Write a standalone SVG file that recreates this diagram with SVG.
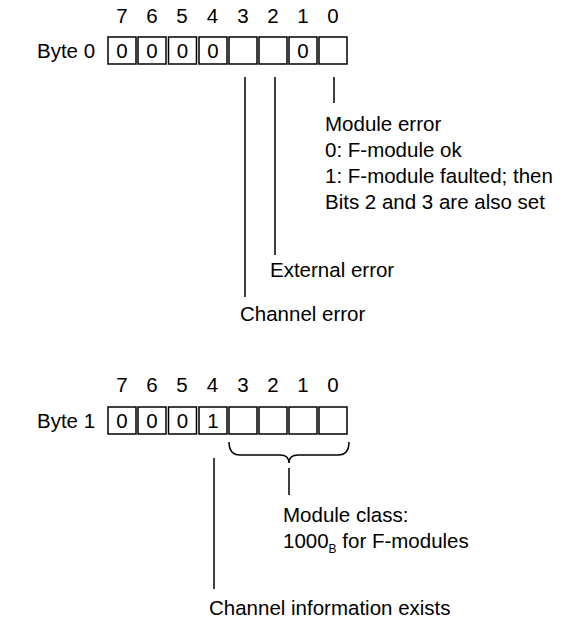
<svg xmlns="http://www.w3.org/2000/svg" width="566" height="625" viewBox="0 0 566 625">
<style>
text{font-family:"Liberation Sans",Arial,sans-serif;font-size:20.5px;fill:#000}
.c{text-anchor:middle}
.cell{fill:#fff;stroke:#000;stroke-width:1.5}
.ln{fill:none;stroke:#000;stroke-width:1.5}
</style>
<rect width="566" height="625" fill="#fff"/>
<g id="byte0">
<text x="37" y="58">Byte 0</text>
<g class="c">
<text x="122" y="23">7</text><text x="152" y="23">6</text><text x="182" y="23">5</text><text x="212.5" y="23">4</text><text x="243" y="23">3</text><text x="273" y="23">2</text><text x="303" y="23">1</text><text x="333" y="23">0</text>
</g>
<rect class="cell" x="108" y="37" width="28" height="27"/>
<rect class="cell" x="138" y="37" width="28" height="27"/>
<rect class="cell" x="168.5" y="37" width="28" height="27"/>
<rect class="cell" x="199" y="37" width="28" height="27"/>
<rect class="cell" x="229" y="37" width="28" height="27"/>
<rect class="cell" x="259" y="37" width="28" height="27"/>
<rect class="cell" x="289" y="37" width="28" height="27"/>
<rect class="cell" x="319" y="37" width="28" height="27"/>
<g class="c">
<text x="122" y="58">0</text><text x="152" y="58">0</text><text x="182.5" y="58">0</text><text x="213" y="58">0</text><text x="303" y="58">0</text>
</g>
</g>
<g id="byte1">
<text x="37" y="428">Byte 1</text>
<g class="c">
<text x="122" y="392">7</text><text x="152" y="392">6</text><text x="182" y="392">5</text><text x="212.5" y="392">4</text><text x="243" y="392">3</text><text x="273" y="392">2</text><text x="303" y="392">1</text><text x="333" y="392">0</text>
</g>
<rect class="cell" x="108" y="407" width="28" height="27"/>
<rect class="cell" x="138" y="407" width="28" height="27"/>
<rect class="cell" x="168.5" y="407" width="28" height="27"/>
<rect class="cell" x="199" y="407" width="28" height="27"/>
<rect class="cell" x="229" y="407" width="28" height="27"/>
<rect class="cell" x="259" y="407" width="28" height="27"/>
<rect class="cell" x="289" y="407" width="28" height="27"/>
<rect class="cell" x="319" y="407" width="28" height="27"/>
<g class="c">
<text x="122" y="428">0</text><text x="152" y="428">0</text><text x="182.5" y="428">0</text><text x="213" y="428">1</text>
</g>
</g>
<g id="labels">
<text x="325" y="131">Module error</text>
<text x="325" y="157">0: F-module ok</text>
<text x="325" y="183">1: F-module faulted; then</text>
<text x="325" y="209">Bits 2 and 3 are also set</text>
<text x="270" y="277">External error</text>
<text x="240" y="321">Channel error</text>
<text x="283" y="522">Module class:</text>
<text x="283" y="548">1000<tspan font-size="12" dy="5">B</tspan><tspan dy="-5"> for F-modules</tspan></text>
<text x="209" y="615">Channel information exists</text>
</g>
<g id="connectors">
<line class="ln" x1="334" y1="77" x2="334" y2="103"/>
<line class="ln" x1="275" y1="77" x2="275" y2="255"/>
<line class="ln" x1="245" y1="77" x2="245" y2="297"/>
<line class="ln" x1="214" y1="458" x2="214" y2="589"/>
<path class="ln" d="M229 442 Q229 455 240 455 L280 455 Q289 455 289 463 Q289 455 298 455 L338 455 Q349 455 349 442"/>
<line class="ln" x1="289" y1="468" x2="289" y2="495"/>
</g>
</svg>
